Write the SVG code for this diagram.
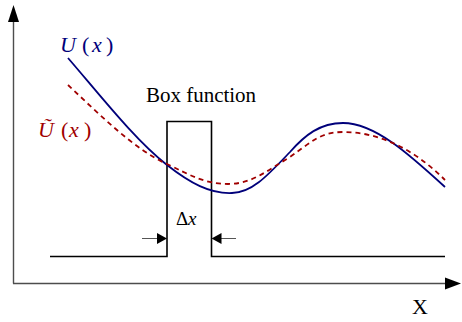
<svg xmlns="http://www.w3.org/2000/svg" width="462" height="322" viewBox="0 0 462 322">
<style>
.axis{stroke:#4d4d4d;stroke-width:1.4;fill:none}
.box{stroke:#000;stroke-width:1.6;fill:none}
.dim{stroke:#555;stroke-width:1;fill:none}
.head{fill:#000;stroke:none}
.u{stroke:#00007a;stroke-width:1.8;fill:none}
.ut{stroke:#a00000;stroke-width:1.8;fill:none;stroke-dasharray:5,4}
.it{font-style:italic}
</style>
<g id="axes">
<path class="axis" d="M13.5,283.5 V10" />
<path class="head" d="M8,22 L13.5,5 L19,22 Z"/>
<path class="axis" d="M13,283.5 H450" />
<path class="head" d="M445,277.5 L461,283.5 L445,289.5 Z"/>
<text x="420" y="314" font-family="'Liberation Serif', 'DejaVu Serif', serif" font-size="22" text-anchor="middle">X</text>
</g>
<g id="box-function">
<path class="box" d="M50,256.5 H167 V121.5 H211.5 V256.5 H445" />
<text x="201" y="102" font-family="'Liberation Serif', 'DejaVu Serif', serif" font-size="21" text-anchor="middle">Box function</text>
</g>
<g id="connectors">
<path class="dim" d="M142,238.5 H158" />
<path class="head" d="M157,233 L167,238.5 L157,244 Z"/>
<path class="dim" d="M236,238.5 H220" />
<path class="head" d="M221.5,233 L211.5,238.5 L221.5,244 Z"/>
</g>
<g id="delta-label">
<text y="225" font-family="'Liberation Serif', 'DejaVu Serif', serif" font-size="19"><tspan x="176">Δ</tspan><tspan class="it" x="188">x</tspan></text>
</g>
<g id="curve-U">
<path class="u" d="M68,58 C100,95 135,140 167,165 C190,183 210,194 232,193 C252,193 268,175 290,152 C305,135 320,123 343,123 C375,123 410,155 445,187"/>
<text y="52" font-family="'Liberation Serif', 'DejaVu Serif', serif" font-size="22" fill="#00007a"><tspan class="it" x="60">U</tspan><tspan x="82">(</tspan><tspan class="it" x="92">x</tspan><tspan x="106">)</tspan></text>
</g>
<g id="curve-Utilde">
<path class="ut" d="M68,85 C100,115 135,150 167,164 C190,175 205,184 228,184 C252,184 268,170 290,157 C310,143 320,132 343,132 C380,132 415,150 445,180"/>
<text y="137" font-family="'Liberation Serif', 'DejaVu Serif', serif" font-size="22" fill="#a00000"><tspan class="it" x="38">Ũ</tspan><tspan x="61">(</tspan><tspan class="it" x="69">x</tspan><tspan x="84">)</tspan></text>
</g>
</svg>
